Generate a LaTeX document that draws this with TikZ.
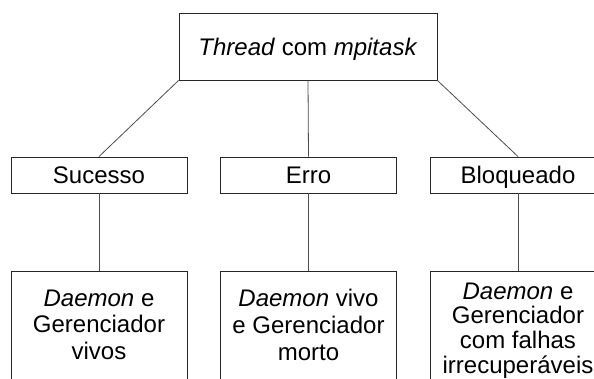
\documentclass[tikz,border=0pt]{standalone}
\usepackage{fontspec}
\setmainfont{Liberation Sans}
\begin{document}
\begin{tikzpicture}[x=1pt,y=-1pt,
  box/.style={draw=black!85, line width=0.9pt, inner sep=0pt, align=center,
    font=\fontsize{24}{27}\selectfont, text height=17.2pt, text depth=0pt},
  topbox/.style={box, minimum width=258pt, minimum height=67pt},
  midbox/.style={box, minimum width=176pt, minimum height=36pt},
  lowbox/.style={box, minimum width=176pt, minimum height=140pt},
  lowtext/.style={anchor=north, inner sep=0pt, align=center,
    font=\fontsize{24}{26.7}\selectfont},
  link/.style={draw=black!70, line width=0.8pt}]
\useasboundingbox (0,0) rectangle (594,378);
\clip (0,0) rectangle (594,378);

% root
\node[topbox] (root) at (308,46.5) {\textit{Thread} com \textit{mpitask}};

% outcomes
\node[midbox] (suc) at (99,175)    {Sucesso};
\node[midbox] (err) at (308.5,175) {Erro};
\node[midbox] (blo) at (518,175)   {Bloqueado};

% consequences (boxes run past the lower edge)
\node[lowbox] (sucx) at (99,341)    {};
\node[lowbox] (errx) at (308.5,341) {};
\node[lowbox] (blox) at (518,341)   {};

\node[lowtext] (suct) at (99,289.4)    {\textit{Daemon} e\\Gerenciador\\vivos};
\node[lowtext] (errt) at (308.5,289.4) {\textit{Daemon} vivo\\e Gerenciador\\morto};
\node[lowtext, font=\fontsize{24}{24.6}\selectfont] (blot) at (518,282.6)
  {\textit{Daemon} e\\Gerenciador\\com falhas\\irrecuperáveis};

% connectors
\draw[link] (root.south west) -- (suc.north);
\draw[link] (root.south)      -- (err.north);
\draw[link] (root.south east) -- (blo.north);
\draw[link] (suc.south) -- (sucx.north);
\draw[link] (err.south) -- (errx.north);
\draw[link] (blo.south) -- (blox.north);
\end{tikzpicture}
\end{document}
